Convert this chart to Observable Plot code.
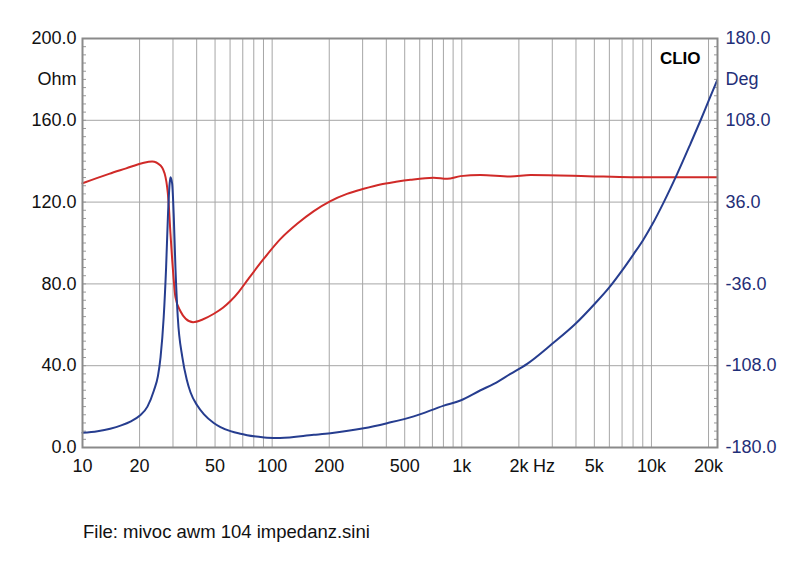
<!DOCTYPE html>
<html>
<head>
<meta charset="utf-8">
<script src="https://cdn.jsdelivr.net/npm/d3@7"></script>
<script src="https://cdn.jsdelivr.net/npm/@observablehq/plot@0.6"></script>
<style>
  body { margin: 0; background: #fff; font-family: "Liberation Sans", Arial, sans-serif; }
  #caption { margin: 21px 0 0 83px; font-size: 18.5px; color: #111; }
</style>
</head>
<body>
<div id="chart"></div>
<div id="caption">File: mivoc awm 104 impedanz.sini</div>
<script>
// Blue curve (left axis, Ohm scale)
const blueFreq = [10, 12, 14, 16, 18, 20, 22, 23.8, 25, 25.8, 26.8, 27.6, 28.2, 28.8, 29.1, 29.7, 30.3, 30.9, 31.8, 33.6, 35.5, 37.1, 40.3, 43.6, 49.2, 53.4, 60.3, 68.1, 73.8, 85, 94, 110, 165.8, 203, 304, 404, 558, 804, 984, 1255, 1475, 1806, 2212, 2997, 3977, 5027, 6009, 7010, 8072, 9045, 10090, 11620, 13670, 16060, 18140, 20060, 22200];
const blueVal  = [7.2, 8.0, 9.2, 10.8, 12.8, 15.5, 20.0, 27.9, 35.0, 44.2, 63.7, 88.2, 112.6, 129, 132.2, 129, 112.6, 88.2, 63.7, 44.2, 33.0, 27.0, 20.5, 16.3, 12.0, 10.0, 8.0, 6.7, 6.0, 5.2, 4.8, 4.7, 6.2, 7.0, 9.4, 11.9, 15.2, 20.5, 23.0, 28.0, 31.1, 36.0, 40.9, 50.7, 60.5, 70.3, 78.4, 86.6, 94.7, 101.5, 109.0, 120.0, 133.8, 148.5, 159.9, 169.7, 179.5];
// Red curve (drawn on the same 0-200 scale)
const redFreq = [10, 13.8, 17, 20.6, 23.3, 25.8, 27.4, 28.4, 29.1, 30.1, 30.9, 32.9, 35, 38.3, 43, 49.3, 55, 60.3, 67, 73.9, 90.4, 110.7, 135.5, 165.9, 203, 248, 304, 372, 450, 536, 710, 838, 984, 1255, 1806, 2306, 4600, 7800, 22200];
const redVal  = [129.2, 133.8, 136.5, 139, 139.9, 137.9, 132.2, 120.8, 104.5, 84.9, 73.5, 66.5, 63.0, 61.3, 62.6, 65.4, 68.3, 71.6, 76.4, 81.7, 92.3, 102, 109.4, 115.6, 120.5, 124, 126.5, 128.6, 129.9, 130.9, 131.9, 131.4, 132.7, 133.2, 132.5, 133.2, 132.7, 132.2, 132.2];

const gridFreq = [10,20,30,40,50,60,70,80,90,100,200,300,400,500,600,700,800,900,1000,2000,3000,4000,5000,6000,7000,8000,9000,10000,20000];
const xTicks = [10,20,50,100,200,500,1000,2000,5000,10000,20000];
const xTickLabels = ["10","20","50","100","200","500","1k","2k","5k","10k","20k"];
const yTicks = [0,40,80,120,160,200];
const yGrid = [40,80,120,160];
const minorTicks = d3.range(0, 201, 4);

const blue = blueFreq.map((f, i) => ({f, v: blueVal[i]}));
const red = redFreq.map((f, i) => ({f, v: redVal[i]}));
const xLabels = xTicks.map((f, i) => ({f, label: xTickLabels[i]}));

const navy = "#1f2f78";
const font = '"Liberation Sans", Arial, sans-serif';

const chart = Plot.plot({
  width: 800,
  height: 500,
  marginTop: 38,
  marginBottom: 53,
  marginLeft: 82,
  marginRight: 83,
  style: {fontFamily: font, fontSize: "18px", background: "#fff", color: "#111"},
  x: {type: "log", domain: [10, 22300], axis: null},
  y: {domain: [0, 200], axis: null},
  marks: [
    Plot.ruleX(gridFreq, {stroke: "#a6a6a6", strokeWidth: 1}),
    Plot.ruleY(yGrid, {stroke: "#a6a6a6", strokeWidth: 1}),
    Plot.text(xLabels, {x: "f", text: "label", frameAnchor: "bottom", lineAnchor: "top", dy: 12, fontSize: 18, fill: "#111"}),
    Plot.text(xLabels.filter((d) => d.label === "2k"), {x: "f", text: () => "Hz", frameAnchor: "bottom", lineAnchor: "top", dy: 12, dx: 25, fontSize: 18, fill: "#111"}),
    Plot.axisY({anchor: "left", ticks: yTicks, tickFormat: (d) => d.toFixed(1), tickSize: 0, tickPadding: 6, label: null, fontSize: 18}),
    Plot.axisY({anchor: "left", ticks: [180], tickFormat: () => "Ohm", tickSize: 0, tickPadding: 6, label: null, fontSize: 18}),
    Plot.axisY({anchor: "left", ticks: minorTicks, tickFormat: null, text: null, tickSize: 4, dx: 4, label: null, stroke: "#999"}),
    Plot.axisY({anchor: "right", ticks: yTicks, tickFormat: (d) => (-180 + d * 1.8).toFixed(1), tickSize: 0, tickPadding: 8, label: null, fontSize: 18, fill: navy}),
    Plot.axisY({anchor: "right", ticks: [180], tickFormat: () => "Deg", tickSize: 0, tickPadding: 8, label: null, fontSize: 18, fill: navy}),
    Plot.axisY({anchor: "right", ticks: minorTicks, tickFormat: null, text: null, tickSize: 4, dx: -4, label: null, stroke: "#999"}),
    Plot.line(red, {x: "f", y: "v", stroke: "#d02a28", strokeWidth: 2, curve: "monotone-x"}),
    Plot.line(blue, {x: "f", y: "v", stroke: "#263d8f", strokeWidth: 2, curve: "monotone-x"}),
    Plot.text(["CLIO"], {frameAnchor: "top-right", textAnchor: "end", dx: -17, dy: 13, fontWeight: "bold", fontSize: 17, fill: "#000"}),
    Plot.frame({stroke: "#8a8a8a", strokeWidth: 2})
  ]
});
document.getElementById("chart").appendChild(chart);
</script>
</body>
</html>
